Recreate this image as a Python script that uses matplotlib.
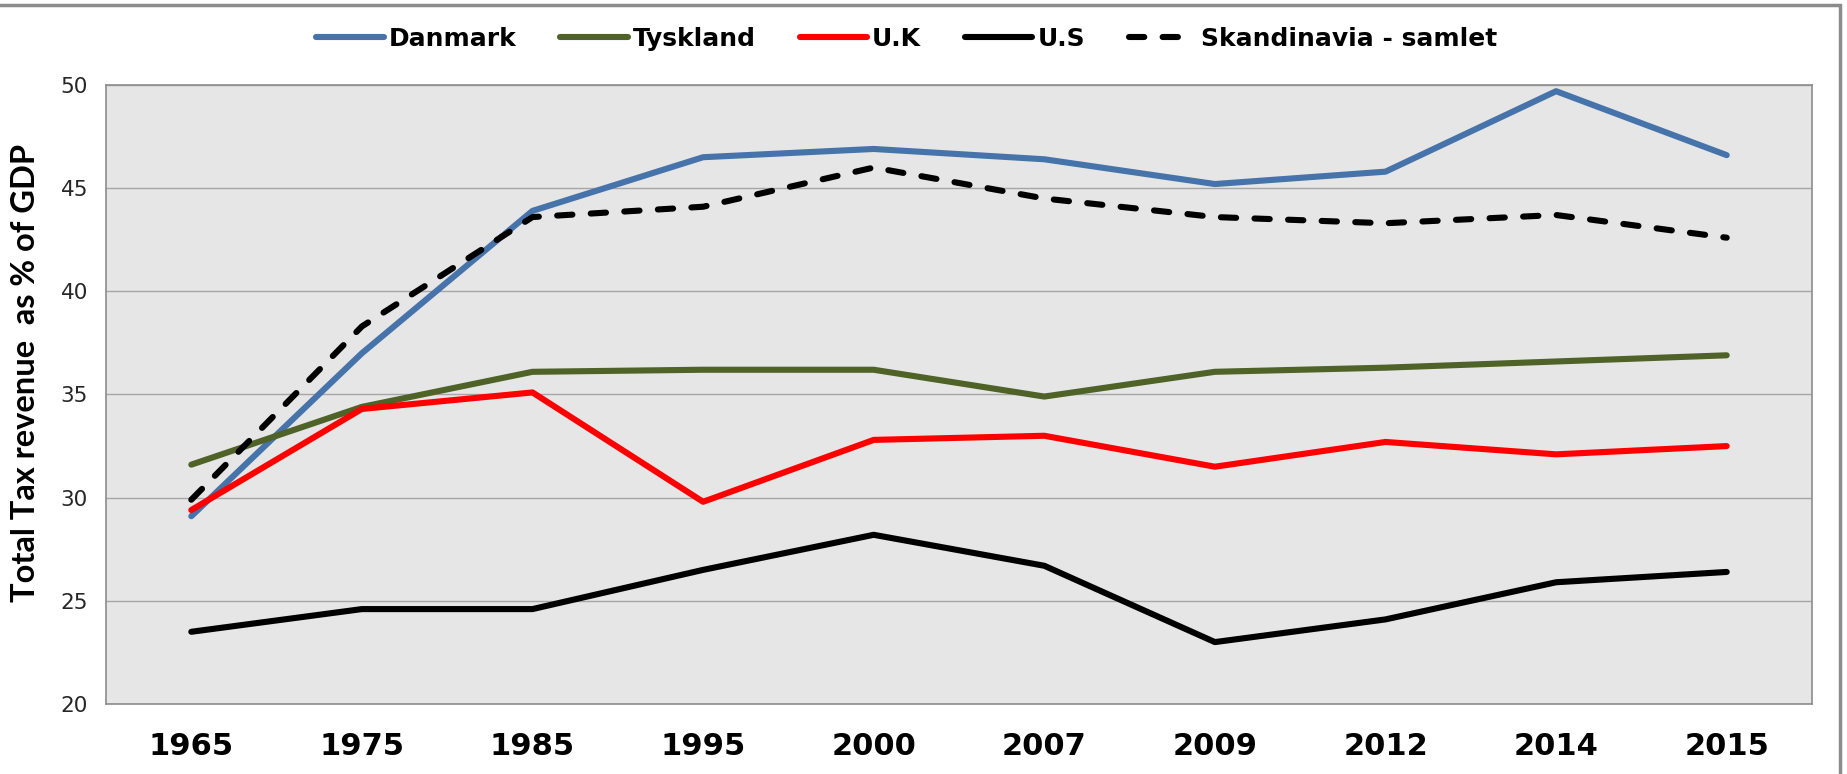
import matplotlib
matplotlib.use('Agg')
import matplotlib.pyplot as plt
import matplotlib.patches as patches
import numpy as np

years = ['1965', '1975', '1985', '1995', '2000', '2007', '2009', '2012', '2014', '2015']

danmark     = [29.1, 37.0, 43.9, 46.5, 46.9, 46.4, 45.2, 45.8, 49.7, 46.6]
tyskland    = [31.6, 34.4, 36.1, 36.2, 36.2, 34.9, 36.1, 36.3, 36.6, 36.9]
uk          = [29.4, 34.3, 35.1, 29.8, 32.8, 33.0, 31.5, 32.7, 32.1, 32.5]
us          = [23.5, 24.6, 24.6, 26.5, 28.2, 26.7, 23.0, 24.1, 25.9, 26.4]
skandinavia = [29.9, 38.3, 43.6, 44.1, 46.0, 44.5, 43.6, 43.3, 43.7, 42.6]

fig = plt.figure(figsize=(18.47, 7.74), dpi=100)
fig.patch.set_facecolor('white')

# outer chart frame (top and right edges visible)
frame = patches.Rectangle((-0.01, -0.05), 1840/1847 + 0.01, 1 - 5/774 + 0.05,
                          transform=fig.transFigure, fill=False,
                          edgecolor='#8c8c8c', linewidth=2.5)
fig.patches.append(frame)

ax = fig.add_axes([106/1847, 1 - 704/774, (1812 - 106)/1847, (704 - 85)/774])
ax.set_facecolor('#e6e6e6')

x = np.arange(len(years))
lw = 4.4
ax.plot(x, danmark, color='#4673aa', lw=lw, solid_capstyle='round', label='Danmark', zorder=3)
ax.plot(x, tyskland, color='#4f6228', lw=lw, solid_capstyle='round', label='Tyskland', zorder=3)
ax.plot(x, uk, color='#ff0000', lw=lw, solid_capstyle='round', label='U.K', zorder=3)
ax.plot(x, us, color='black', lw=lw, solid_capstyle='round', label='U.S', zorder=3)
ax.plot(x, skandinavia, color='black', lw=lw, dashes=(2.5, 3.0), dash_capstyle='round',
        label='Skandinavia - samlet', zorder=3)

ax.set_xlim(-0.5, len(years) - 0.5)
ax.set_ylim(20, 50)
ax.set_yticks([20, 25, 30, 35, 40, 45, 50])
ax.set_xticks(x)
ax.set_xticklabels(years)

ax.grid(axis='y', color='#a6a6a6', linewidth=1.0, zorder=1)
ax.set_axisbelow(True)
for s in ax.spines.values():
    s.set_color('#8c8c8c')
    s.set_linewidth(1.2)

ax.tick_params(axis='y', length=0, pad=13, labelsize=15.5, labelcolor='#262626')
ax.tick_params(axis='x', length=0, pad=20)
for lab in ax.get_xticklabels():
    lab.set_fontsize(22)
    lab.set_fontweight('bold')
    lab.set_family('DejaVu Sans')

fig.text(26/1847, 1 - 373/774, 'Total Tax revenue  as % of GDP', rotation=90,
         ha='center', va='center', fontsize=23.5, fontweight='bold', family='Lato')

fig.legend(loc='center', bbox_to_anchor=(907/1847, 1 - 39/774), ncol=5,
           frameon=False, prop={'family': 'DejaVu Sans', 'weight': 'bold', 'size': 18},
           handlelength=2.7, handletextpad=0.2, columnspacing=1.75)

plt.savefig('out.png', dpi=100)
